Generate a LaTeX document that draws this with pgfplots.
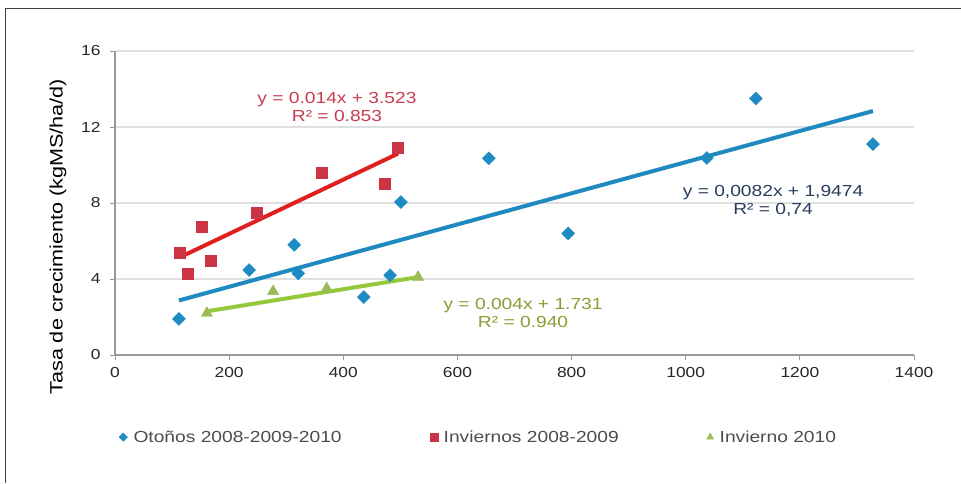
\documentclass[border=0pt]{standalone}
\usepackage{pgfplots}
\pgfplotsset{compat=1.18}
\usepackage{fontspec}
\setmainfont{Liberation Sans}[FakeStretch=1.2]
\definecolor{bmk}{RGB}{30,139,195}
\definecolor{bln}{RGB}{31,138,192}
\definecolor{rmk}{RGB}{204,51,68}
\definecolor{rln}{RGB}{224,32,32}
\definecolor{gmk}{RGB}{155,187,89}
\definecolor{gln}{RGB}{150,200,60}
\definecolor{rtx}{RGB}{200,60,80}
\definecolor{btx}{RGB}{40,60,95}
\definecolor{gtx}{RGB}{140,155,50}
\begin{document}
\begin{tikzpicture}[x=1pt,y=1pt]
\useasboundingbox (0,0) rectangle (961,483);
\draw[black!75, line width=1pt] (5,0) -- (5,474) -- (961,474);
\begin{axis}[
  at={(115pt,128pt)}, anchor=south west,
  scale only axis, width=799pt, height=304pt,
  xmin=0, xmax=1400, ymin=0, ymax=16,
  xtick={0,200,...,1400}, ytick={0,4,8,12,16},
  axis lines*=left,
  axis line style={draw=gray!80, line width=1.3pt, -},
  tick style={draw=gray!80, line width=1pt},
  tick align=outside, major tick length=5pt,
  ymajorgrids, major grid style={draw=gray!25, line width=1.2pt},
  /pgf/number format/assume math mode=true,
  /pgf/number format/set thousands separator={},
  tick label style={font=\fontsize{14.5}{16}\selectfont, text=black!85},
  scaled ticks=false,
  xticklabel style={yshift=-4pt},
  yticklabel style={xshift=-6pt},
  ylabel={Tasa de crecimiento (kgMS/ha/d)},
  ylabel style={at={(axis description cs:-0.0713,0.389)}, anchor=center, rotate=0, font=\fontsize{18}{20}\selectfont, text=black},
  legend columns=3,
  legend style={draw=none, fill=none, at={(axis description cs:0.455,-0.27)}, anchor=center,
    font=\fontsize{16}{18}\selectfont, text=black!70,
    /tikz/every even column/.append style={column sep=86pt},
    /tikz/every odd column/.append style={column sep=0pt}},
  legend cell align=left,
]
\addplot[only marks, mark=square*, mark size=4.6pt, mark options={rotate=45}, color=bmk,
  legend image post style={mark size=3pt}] coordinates {
 (112,1.9) (235,4.47) (314,5.8) (321,4.3) (436,3.05) (482,4.2) (501,8.05)
 (655,10.35) (794,6.4) (1037,10.37) (1123,13.5) (1328,11.1)};
\addlegendentry{\hspace{4pt}Otoños 2008-2009-2010}
\addplot[only marks, mark=square*, mark size=5.5pt, color=rmk,
  legend image post style={mark size=4pt}] coordinates {
 (114,5.37) (152,6.74) (128,4.3) (168,4.95) (248,7.47) (363,9.58) (472,9.0) (496,10.9)};
\addlegendentry{\hspace{4pt}Inviernos 2008-2009}
\addplot[only marks, mark=triangle*, mark size=6.5pt, color=gmk,
  legend image post style={mark size=4pt}] coordinates {
 (161,2.2) (277,3.35) (371,3.5) (531,4.1)};
\addlegendentry{\hspace{4pt}Invierno 2010}
\addplot[forget plot, no marks, color=bln, line width=4pt] coordinates {(112,2.87) (1328,12.84)};
\addplot[forget plot, no marks, color=rln, line width=4pt] coordinates {(114,5.15) (496,10.6)};
\addplot[forget plot, no marks, color=gln, line width=4pt] coordinates {(161,2.3) (531,4.1)};
\node[text=rtx, font=\fontsize{16}{18}\selectfont, align=center] at (axis cs:389,13.05) {y = 0.014x + 3.523\\R² = 0.853};
\node[text=btx, font=\fontsize{16}{18}\selectfont, align=center] at (axis cs:1153,8.1) {y = 0,0082x + 1,9474\\R² = 0,74};
\node[text=gtx, font=\fontsize{16}{18}\selectfont, align=center] at (axis cs:715,2.2) {y = 0.004x + 1.731\\R² = 0.940};
\end{axis}
\end{tikzpicture}
\end{document}
